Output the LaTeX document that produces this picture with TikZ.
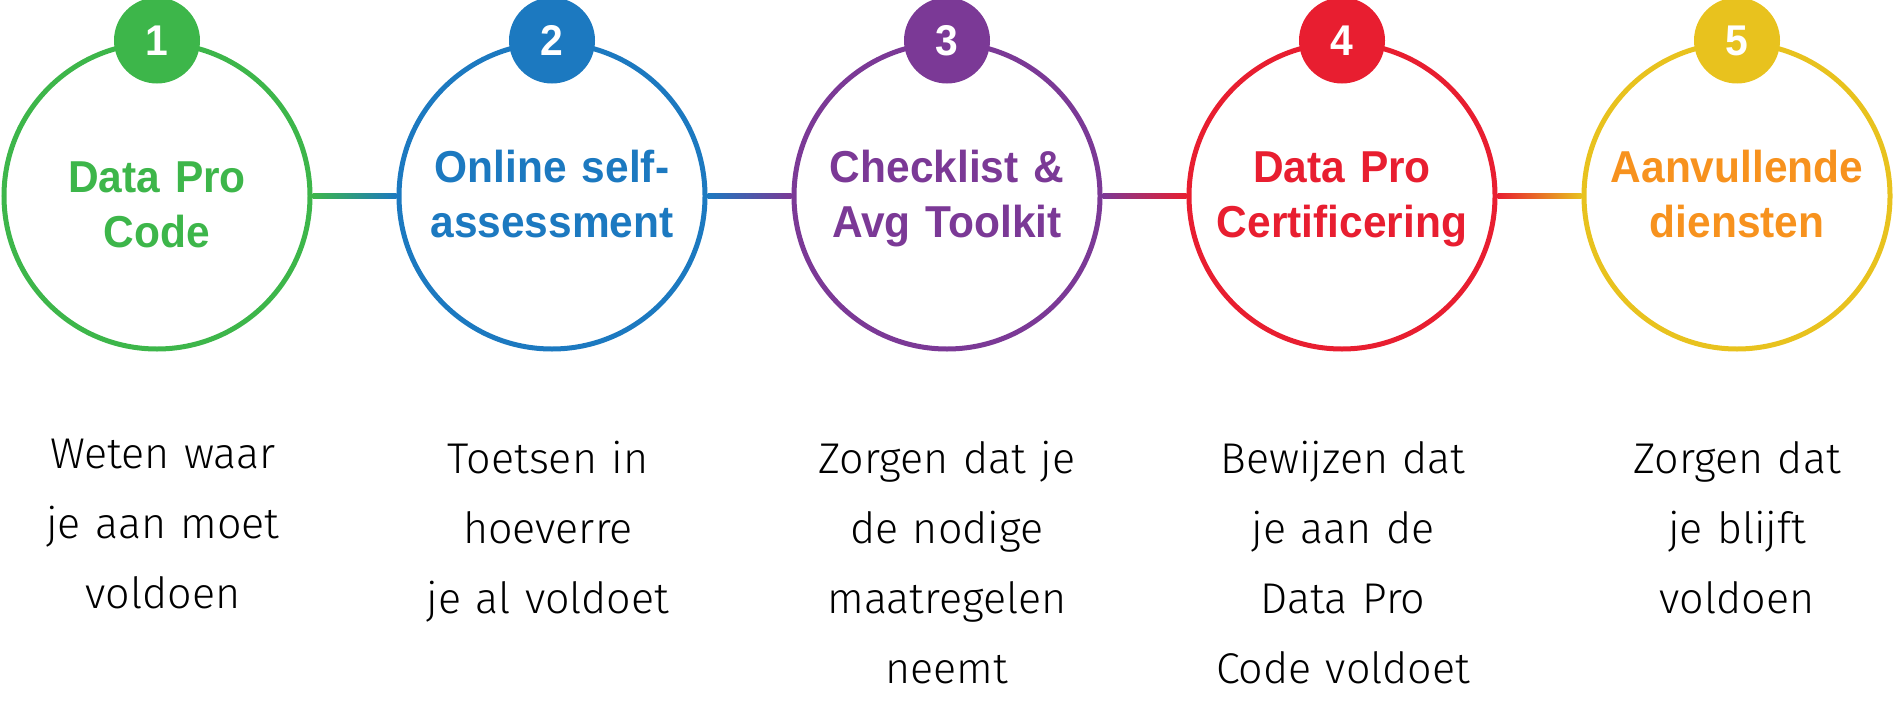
\documentclass[tikz,border=0pt]{standalone}
\usepackage{fontspec}
\setmainfont{Liberation Sans}
\newfontfamily\titlefont[FakeStretch=0.95]{Liberation Sans}
\newfontfamily\bodyfont{Fira Sans Light}
\usetikzlibrary{calc}
\definecolor{cgreen}{HTML}{3DB64A}
\definecolor{cblue}{HTML}{1C79C0}
\definecolor{cpurple}{HTML}{7B3996}
\definecolor{cred}{HTML}{E81E30}
\definecolor{cyellow}{HTML}{E8C21E}
\definecolor{corange}{HTML}{F7921E}
\tikzset{
  ring/.style={circle, draw=#1, line width=5pt, minimum size=306pt, inner sep=0pt},
  badge/.style={circle, fill=#1, minimum size=86pt, inner sep=0pt, text=white,
    font=\titlefont\bfseries\fontsize{43}{43}\selectfont},
  title/.style={text width=320pt, align=center, anchor=base, text=#1,
    font=\titlefont\bfseries\fontsize{44.7}{55}\selectfont},
  body/.style={text width=330pt, align=center, anchor=base, text=black,
    font=\bodyfont\fontsize{43}{70}\selectfont},
}
\begin{document}
\begin{tikzpicture}[x=1pt,y=-1pt]
\useasboundingbox (0,0) rectangle (1894,704);
% rings
\node[ring=cgreen]  (c1) at (157,196) {};
\node[ring=cblue]   (c2) at (552,196) {};
\node[ring=cpurple] (c3) at (947,196) {};
\node[ring=cred]    (c4) at (1342,196) {};
\node[ring=cyellow] (c5) at (1737,196) {};
% connectors
\shade[left color=cgreen, right color=cblue] ($(c1.east)+(0,-2.5)$) rectangle ($(c2.west)+(0,2.5)$);
\shade[left color=cblue, right color=cpurple] ($(c2.east)+(0,-2.5)$) rectangle ($(c3.west)+(0,2.5)$);
\shade[left color=cpurple, right color=cred] ($(c3.east)+(0,-2.5)$) rectangle ($(c4.west)+(0,2.5)$);
\shade[left color=cred, right color=cyellow] ($(c4.east)+(0,-2.5)$) rectangle ($(c5.west)+(0,2.5)$);
% badges
\node[badge=cgreen]  (b1) at (c1.north) {1};
\node[badge=cblue]   (b2) at (c2.north) {2};
\node[badge=cpurple] (b3) at (c3.north) {3};
\node[badge=cred]    (b4) at (c4.north) {4};
\node[badge=cyellow] (b5) at (c5.north) {5};
% titles
\node[title=cgreen]  (t1) at (157,192) {Data Pro\\Code};
\node[title=cblue]   (t2) at (552,182) {Online self-\\assessment};
\node[title=cpurple] (t3) at (947,182) {Checklist \&\\Avg Toolkit};
\node[title=cred]    (t4) at (1342,182) {Data Pro\\Certificering};
\node[title=corange] (t5) at (1737,182) {Aanvullende\\diensten};
% descriptions
\node[body] (d1) at (163,468) {Weten waar\\je aan moet\\voldoen};
\node[body] (d2) at (548,473) {Toetsen in\\hoeverre\\je al voldoet};
\node[body] (d3) at (947,473) {Zorgen dat je\\de nodige\\maatregelen\\neemt};
\node[body] (d4) at (1343,473) {Bewijzen dat\\je aan de\\Data Pro\\Code voldoet};
\node[body] (d5) at (1737,473) {Zorgen dat\\je blijft\\voldoen};
\end{tikzpicture}
\end{document}
